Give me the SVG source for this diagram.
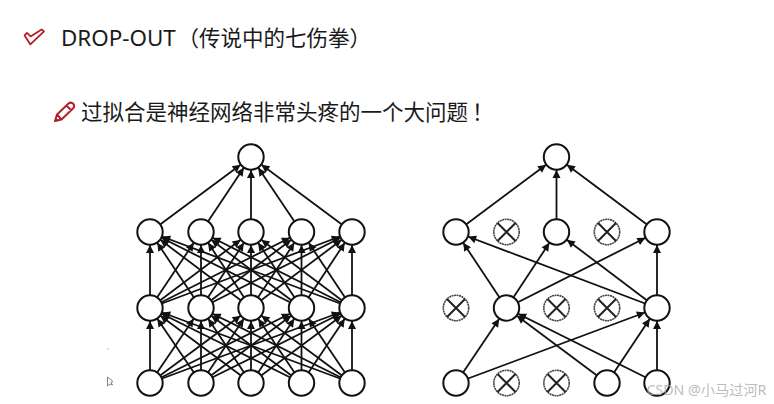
<svg xmlns="http://www.w3.org/2000/svg" width="774" height="404" viewBox="0 0 774 404">
<style>
.t{font-family:"Noto Sans","Noto Sans CJK SC",sans-serif;font-size:21.5px;fill:#1a1a1a}
.n{fill:#fff;stroke:#111;stroke-width:2}
.d{fill:#fff;stroke:#444;stroke-width:1.6;stroke-dasharray:2 .5}
.x{stroke:#222;stroke-width:2;fill:none}
.c line{stroke:#111;stroke-width:1.8;marker-end:url(#a)}
.i{fill:none;stroke:#b3202a;stroke-width:1.8;stroke-linejoin:round}
</style>
<defs>
<marker id="a" markerUnits="userSpaceOnUse" markerWidth="30" markerHeight="10" viewBox="0 0 30 10" refX="21" refY="5" orient="auto" overflow="visible"><path d="M0 1L8 5L0 9Z" fill="#111"/></marker>
</defs>
<rect width="774" height="404" fill="#fff"/>
<g id="title">
<path class="i" d="M24.6 35.400L27 32.900L30.600 36.400L41.600 29.400L44 31.400L30.400 44.400Z"/>
<text class="t" x="61" y="46" style="font-size:22.4px">DROP-OUT</text>
<text class="t" x="177.500" y="46">（传说中的七伤拳）</text>
</g>
<g id="subtitle">
<path class="i" style="stroke-width:2" d="M55 121L57 114.500L68.500 103.500Q71 101.500 73.500 104Q75 106.500 73 108.500L61.500 119.500ZM66.500 105.500L71.500 110.500M57 114.500L61.500 119.500"/>
<path d="M54.500 122L55.500 117.500L59 120.500Z" fill="#b3202a"/>
<text class="t" x="81" y="120">过拟合是神经网络非常头疼的一个大问题<tspan dx="4">！</tspan></text>
</g>
<g id="connectors-left" class="c">
<line x1="150" y1="232" x2="251" y2="157"/><line x1="201" y1="232" x2="251" y2="157"/><line x1="251" y1="232" x2="251" y2="157"/><line x1="301.500" y1="232" x2="251" y2="157"/><line x1="352" y1="232" x2="251" y2="157"/>
<line x1="150" y1="308" x2="150" y2="232"/><line x1="150" y1="308" x2="201" y2="232"/><line x1="150" y1="308" x2="251" y2="232"/><line x1="150" y1="308" x2="301.500" y2="232"/><line x1="150" y1="308" x2="352" y2="232"/>
<line x1="201" y1="308" x2="150" y2="232"/><line x1="201" y1="308" x2="201" y2="232"/><line x1="201" y1="308" x2="251" y2="232"/><line x1="201" y1="308" x2="301.500" y2="232"/><line x1="201" y1="308" x2="352" y2="232"/>
<line x1="251" y1="308" x2="150" y2="232"/><line x1="251" y1="308" x2="201" y2="232"/><line x1="251" y1="308" x2="251" y2="232"/><line x1="251" y1="308" x2="301.500" y2="232"/><line x1="251" y1="308" x2="352" y2="232"/>
<line x1="301.500" y1="308" x2="150" y2="232"/><line x1="301.500" y1="308" x2="201" y2="232"/><line x1="301.500" y1="308" x2="251" y2="232"/><line x1="301.500" y1="308" x2="301.500" y2="232"/><line x1="301.500" y1="308" x2="352" y2="232"/>
<line x1="352" y1="308" x2="150" y2="232"/><line x1="352" y1="308" x2="201" y2="232"/><line x1="352" y1="308" x2="251" y2="232"/><line x1="352" y1="308" x2="301.500" y2="232"/><line x1="352" y1="308" x2="352" y2="232"/>
<line x1="150" y1="383" x2="150" y2="308"/><line x1="150" y1="383" x2="201" y2="308"/><line x1="150" y1="383" x2="251" y2="308"/><line x1="150" y1="383" x2="301.500" y2="308"/><line x1="150" y1="383" x2="352" y2="308"/>
<line x1="201" y1="383" x2="150" y2="308"/><line x1="201" y1="383" x2="201" y2="308"/><line x1="201" y1="383" x2="251" y2="308"/><line x1="201" y1="383" x2="301.500" y2="308"/><line x1="201" y1="383" x2="352" y2="308"/>
<line x1="251" y1="383" x2="150" y2="308"/><line x1="251" y1="383" x2="201" y2="308"/><line x1="251" y1="383" x2="251" y2="308"/><line x1="251" y1="383" x2="301.500" y2="308"/><line x1="251" y1="383" x2="352" y2="308"/>
<line x1="301.500" y1="383" x2="150" y2="308"/><line x1="301.500" y1="383" x2="201" y2="308"/><line x1="301.500" y1="383" x2="251" y2="308"/><line x1="301.500" y1="383" x2="301.500" y2="308"/><line x1="301.500" y1="383" x2="352" y2="308"/>
<line x1="352" y1="383" x2="150" y2="308"/><line x1="352" y1="383" x2="201" y2="308"/><line x1="352" y1="383" x2="251" y2="308"/><line x1="352" y1="383" x2="301.500" y2="308"/><line x1="352" y1="383" x2="352" y2="308"/>
</g>
<g id="connectors-right" class="c">
<line x1="456" y1="232" x2="556.500" y2="157"/><line x1="556.500" y1="232" x2="556.500" y2="157"/><line x1="657" y1="232" x2="556.500" y2="157"/>
<line x1="506.500" y1="308" x2="456" y2="232"/><line x1="506.500" y1="308" x2="556.500" y2="232"/><line x1="506.500" y1="308" x2="657" y2="232"/>
<line x1="657" y1="308" x2="456" y2="232"/><line x1="657" y1="308" x2="556.500" y2="232"/><line x1="657" y1="308" x2="657" y2="232"/>
<line x1="456" y1="383" x2="506.500" y2="308"/><line x1="456" y1="383" x2="657" y2="308"/>
<line x1="607" y1="383" x2="506.500" y2="308"/><line x1="607" y1="383" x2="657" y2="308"/>
<line x1="657" y1="383" x2="506.500" y2="308"/><line x1="657" y1="383" x2="657" y2="308"/>
</g>
<g id="L0"><circle class="n" cx="251" cy="157" r="12.700"/></g>
<g id="L1a"><circle class="n" cx="150" cy="232" r="12.700"/></g>
<g id="L1b"><circle class="n" cx="201" cy="232" r="12.700"/></g>
<g id="L1c"><circle class="n" cx="251" cy="232" r="12.700"/></g>
<g id="L1d"><circle class="n" cx="301.500" cy="232" r="12.700"/></g>
<g id="L1e"><circle class="n" cx="352" cy="232" r="12.700"/></g>
<g id="L2a"><circle class="n" cx="150" cy="308" r="12.700"/></g>
<g id="L2b"><circle class="n" cx="201" cy="308" r="12.700"/></g>
<g id="L2c"><circle class="n" cx="251" cy="308" r="12.700"/></g>
<g id="L2d"><circle class="n" cx="301.500" cy="308" r="12.700"/></g>
<g id="L2e"><circle class="n" cx="352" cy="308" r="12.700"/></g>
<g id="L3a"><circle class="n" cx="150" cy="383" r="12.700"/></g>
<g id="L3b"><circle class="n" cx="201" cy="383" r="12.700"/></g>
<g id="L3c"><circle class="n" cx="251" cy="383" r="12.700"/></g>
<g id="L3d"><circle class="n" cx="301.500" cy="383" r="12.700"/></g>
<g id="L3e"><circle class="n" cx="352" cy="383" r="12.700"/></g>
<g id="R0"><circle class="n" cx="556.500" cy="157" r="12.700"/></g>
<g id="R1a"><circle class="n" cx="456" cy="232" r="12.700"/></g>
<g id="R1b"><circle class="d" cx="506.500" cy="232" r="12.700"/><path class="x" d="M497.500 223L515.500 241M515.500 223L497.500 241"/></g>
<g id="R1c"><circle class="n" cx="556.500" cy="232" r="12.700"/></g>
<g id="R1d"><circle class="d" cx="607" cy="232" r="12.700"/><path class="x" d="M598 223L616 241M616 223L598 241"/></g>
<g id="R1e"><circle class="n" cx="657" cy="232" r="12.700"/></g>
<g id="R2a"><circle class="d" cx="456" cy="308" r="12.700"/><path class="x" d="M447 299L465 317M465 299L447 317"/></g>
<g id="R2b"><circle class="n" cx="506.500" cy="308" r="12.700"/></g>
<g id="R2c"><circle class="d" cx="556.500" cy="308" r="12.700"/><path class="x" d="M547.500 299L565.500 317M565.500 299L547.500 317"/></g>
<g id="R2d"><circle class="d" cx="607" cy="308" r="12.700"/><path class="x" d="M598 299L616 317M616 299L598 317"/></g>
<g id="R2e"><circle class="n" cx="657" cy="308" r="12.700"/></g>
<g id="R3a"><circle class="n" cx="456" cy="383" r="12.700"/></g>
<g id="R3b"><circle class="d" cx="506.500" cy="383" r="12.700"/><path class="x" d="M497.500 374L515.500 392M515.500 374L497.500 392"/></g>
<g id="R3c"><circle class="d" cx="556.500" cy="383" r="12.700"/><path class="x" d="M547.500 374L565.500 392M565.500 374L547.500 392"/></g>
<g id="R3d"><circle class="n" cx="607" cy="383" r="12.700"/></g>
<g id="R3e"><circle class="n" cx="657" cy="383" r="12.700"/></g>
<path d="M107.500 377V386L110 384L112.500 385L111 382.500L113 381.500Z" fill="#fff" stroke="#777" stroke-width=".9"/>
<rect x="107.500" y="348.500" width="1" height="1" fill="#777"/>
<text x="646.500" y="395" font-family="'Noto Sans','Noto Sans CJK SC',sans-serif" font-size="14.200" fill="#aaa" fill-opacity=".8">CSDN @小马过河R</text>
</svg>
